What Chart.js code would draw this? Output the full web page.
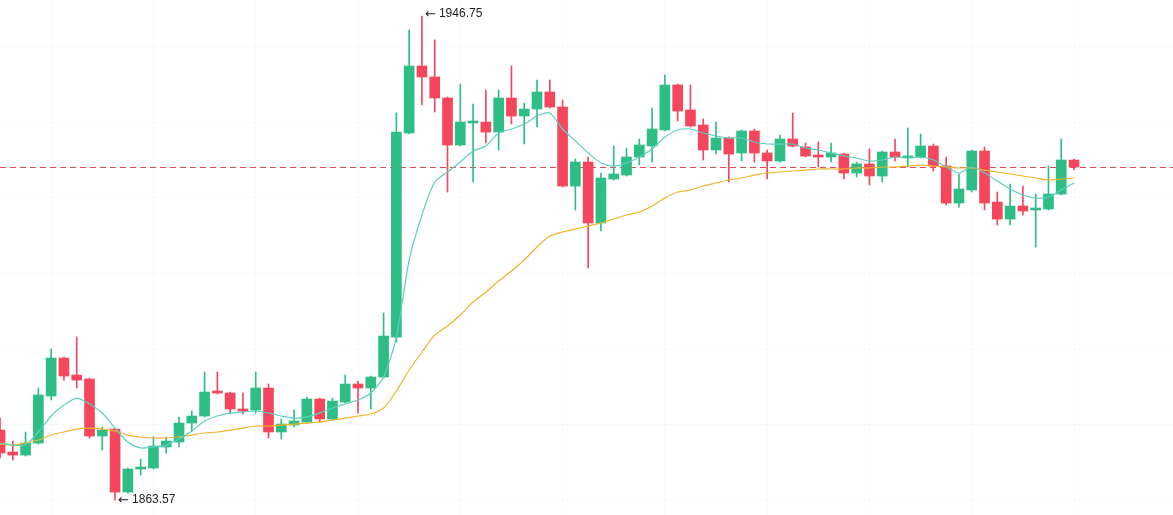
<!DOCTYPE html>
<html>
<head>
<meta charset="utf-8">
<title>Candles</title>
<script src="https://cdn.jsdelivr.net/npm/chart.js@4.4.1/dist/chart.umd.min.js"></script>
<style>
  html, body { margin: 0; padding: 0; background: #fff; }
  #wrap { width: 1173px; height: 515px; position: relative; }
</style>
</head>
<body>
<div id="wrap"><canvas id="kline"></canvas></div>
<script>
// candle values (oldest first)
const opens = [
  1875.60, 1871.82, 1871.30, 1873.37, 1881.44, 1887.97, 1885.05, 1884.37, 1874.57, 1875.77,
  1864.94, 1868.90, 1869.07, 1872.68, 1873.54, 1876.80, 1878.01, 1882.13, 1881.96, 1879.21,
  1879.04, 1882.82, 1875.26, 1876.46, 1876.98, 1880.93, 1877.49, 1880.41, 1883.51, 1882.82,
  1884.71, 1891.58, 1926.64, 1938.16, 1936.27, 1932.66, 1924.58, 1928.36, 1928.53, 1926.81,
  1932.66, 1929.56, 1930.77, 1933.69, 1931.11, 1917.53, 1921.66, 1911.18, 1918.74, 1919.42,
  1922.52, 1924.41, 1927.16, 1934.89, 1930.60, 1928.02, 1923.72, 1925.78, 1923.21, 1926.99,
  1923.21, 1921.83, 1925.61, 1924.24, 1922.86, 1922.52, 1923.03, 1919.77, 1921.32, 1919.25,
  1923.38, 1922.35, 1922.52, 1924.41, 1920.97, 1914.61, 1916.85, 1923.55, 1914.78, 1911.86,
  1914.10, 1913.41, 1913.58, 1916.16, 1922.00
];
const highs = [
  1877.66, 1873.71, 1875.26, 1882.82, 1889.52, 1888.15, 1891.58, 1884.54, 1876.12, 1875.94,
  1869.07, 1870.62, 1874.40, 1874.40, 1877.83, 1878.87, 1885.57, 1885.57, 1882.13, 1881.96,
  1885.57, 1883.51, 1877.49, 1879.04, 1881.27, 1881.10, 1881.10, 1885.05, 1884.02, 1884.88,
  1895.71, 1930.08, 1944.34, 1946.75, 1942.63, 1932.83, 1935.06, 1931.63, 1934.03, 1934.03,
  1938.16, 1931.80, 1935.75, 1935.75, 1932.31, 1922.17, 1922.52, 1919.77, 1924.41, 1924.06,
  1925.61, 1930.94, 1936.61, 1935.06, 1934.89, 1929.05, 1928.53, 1925.96, 1927.16, 1927.33,
  1923.72, 1926.30, 1930.08, 1924.92, 1925.10, 1924.92, 1923.21, 1921.66, 1923.89, 1923.55,
  1925.61, 1927.50, 1926.47, 1924.75, 1922.52, 1919.60, 1923.72, 1924.24, 1916.50, 1917.88,
  1917.53, 1916.16, 1920.97, 1925.61, 1922.17
];
const lows = [
  1870.79, 1870.44, 1871.13, 1873.19, 1880.76, 1884.19, 1882.82, 1874.23, 1872.16, 1863.57,
  1864.77, 1867.87, 1868.90, 1871.65, 1872.68, 1875.43, 1877.83, 1881.79, 1878.35, 1878.35,
  1878.52, 1874.23, 1874.05, 1876.12, 1876.80, 1876.98, 1877.32, 1880.24, 1878.52, 1879.21,
  1884.54, 1890.72, 1926.47, 1931.45, 1930.25, 1916.50, 1924.41, 1918.22, 1924.92, 1923.72,
  1928.19, 1924.75, 1927.67, 1930.94, 1917.36, 1913.41, 1903.44, 1909.80, 1918.57, 1919.25,
  1921.14, 1921.66, 1926.99, 1928.70, 1927.67, 1922.00, 1923.03, 1918.22, 1921.83, 1921.66,
  1918.74, 1921.66, 1924.24, 1922.52, 1920.80, 1921.66, 1918.74, 1919.08, 1917.71, 1918.22,
  1921.83, 1920.80, 1922.35, 1920.11, 1914.27, 1913.92, 1916.50, 1913.41, 1910.83, 1910.83,
  1912.55, 1907.05, 1913.41, 1915.99, 1920.28
];
const closes = [
  1871.65, 1871.30, 1873.37, 1881.62, 1887.97, 1884.88, 1884.19, 1874.57, 1875.60, 1864.94,
  1868.90, 1869.24, 1872.85, 1873.71, 1876.80, 1878.01, 1882.13, 1881.96, 1879.21, 1878.87,
  1882.82, 1875.26, 1876.63, 1877.15, 1880.93, 1877.49, 1880.58, 1883.51, 1882.82, 1884.71,
  1891.76, 1926.81, 1938.16, 1936.27, 1932.66, 1924.58, 1928.53, 1928.70, 1926.81, 1932.66,
  1929.56, 1930.77, 1933.69, 1931.11, 1917.53, 1921.66, 1911.18, 1918.91, 1919.60, 1922.52,
  1924.58, 1927.33, 1934.89, 1930.42, 1927.85, 1923.72, 1925.78, 1923.03, 1926.99, 1923.21,
  1921.83, 1925.61, 1924.41, 1922.69, 1922.52, 1923.21, 1919.77, 1921.32, 1919.25, 1923.38,
  1922.52, 1922.52, 1924.41, 1920.97, 1914.61, 1917.02, 1923.55, 1914.61, 1911.86, 1914.10,
  1913.24, 1913.75, 1916.16, 1922.00, 1920.80
];

// moving average lines at each candle
const maFast = [
  1873.37, 1873.02, 1873.02, 1875.26, 1878.01, 1879.90, 1881.10, 1880.07, 1878.52, 1875.94,
  1873.54, 1872.51, 1872.68, 1873.02, 1874.05, 1875.43, 1877.15, 1878.01, 1878.52, 1878.69,
  1878.87, 1878.52, 1878.01, 1877.66, 1877.83, 1878.52, 1879.38, 1880.07, 1880.76, 1881.96,
  1884.71, 1891.58, 1904.82, 1912.55, 1918.22, 1919.94, 1921.66, 1923.55, 1924.41, 1926.64,
  1927.33, 1928.19, 1929.56, 1930.08, 1927.33, 1925.27, 1923.21, 1921.49, 1920.97, 1921.49,
  1922.52, 1923.89, 1925.96, 1927.16, 1927.33, 1926.64, 1926.13, 1925.78, 1925.78, 1925.10,
  1924.75, 1924.75, 1924.75, 1924.06, 1923.72, 1923.21, 1922.69, 1922.35, 1921.83, 1922.00,
  1922.52, 1922.35, 1922.52, 1922.00, 1920.80, 1919.77, 1920.80, 1919.77, 1918.39, 1917.02,
  1915.99, 1915.47, 1915.64, 1916.85, 1918.05
];
const maSlow = [
  1873.19, 1873.02, 1873.37, 1873.88, 1874.74, 1875.26, 1875.77, 1875.94, 1875.77, 1875.43,
  1874.74, 1874.40, 1874.23, 1874.23, 1874.40, 1874.74, 1875.09, 1875.26, 1875.60, 1875.94,
  1876.29, 1876.29, 1876.46, 1876.63, 1876.80, 1876.98, 1877.32, 1877.66, 1878.01, 1878.35,
  1879.38, 1882.30, 1885.91, 1889.01, 1891.93, 1893.47, 1895.36, 1897.60, 1899.32, 1901.21,
  1902.93, 1904.82, 1907.05, 1908.94, 1909.63, 1910.14, 1910.66, 1911.18, 1911.86, 1912.55,
  1913.07, 1914.10, 1915.47, 1916.50, 1916.85, 1917.53, 1918.05, 1918.57, 1918.91, 1919.42,
  1919.77, 1919.94, 1920.11, 1920.28, 1920.46, 1920.46, 1920.46, 1920.63, 1920.63, 1920.80,
  1920.80, 1920.97, 1921.14, 1920.97, 1920.80, 1920.63, 1920.63, 1920.28, 1919.94, 1919.60,
  1919.25, 1918.91, 1918.57, 1918.74, 1918.91
];

// faint grid: price levels and candle slots
const gridPrices = [1863.5, 1876.5, 1889.5, 1902.5, 1915.5, 1928.5, 1941.5];
const gridSlots = [4, 12, 20, 28, 36, 44, 52, 60, 68, 76, 84];

const UP = '#2ebd85';
const DOWN = '#f6465d';

const candleColors = closes.map((c, i) => c >= opens[i] ? UP : DOWN);
const wickData = closes.map((_, i) => ({ x: i, y: [lows[i], highs[i]] }));
const bodyData = closes.map((c, i) => ({ x: i, y: [opens[i], c] }));
const fastData = maFast.map((v, i) => ({ x: i, y: v }));
const slowData = maSlow.map((v, i) => ({ x: i, y: v }));

// dashed line at the last close
const lastPriceLine = {
  id: 'lastPriceLine',
  beforeDatasetsDraw(chart) {
    const { ctx, chartArea, scales: { y } } = chart;
    const py = Math.round(y.getPixelForValue(closes[closes.length - 1])) + 0.5;
    ctx.save();
    ctx.strokeStyle = '#e2475a';
    ctx.lineWidth = 1;
    ctx.setLineDash([6, 4]);
    ctx.beginPath();
    ctx.moveTo(chartArea.left, py);
    ctx.lineTo(chartArea.right, py);
    ctx.stroke();
    ctx.restore();
  }
};

// "← value" marks at the highest high and lowest low
const extremeLabels = {
  id: 'extremeLabels',
  afterDatasetsDraw(chart) {
    const { ctx, scales: { x, y } } = chart;
    const hi = highs.indexOf(Math.max(...highs));
    const lo = lows.indexOf(Math.min(...lows));
    const marks = [
      { px: x.getPixelForValue(hi), py: y.getPixelForValue(highs[hi]) - 2, text: highs[hi].toFixed(2) },
      { px: x.getPixelForValue(lo), py: y.getPixelForValue(lows[lo]), text: lows[lo].toFixed(2) }
    ];
    ctx.save();
    ctx.fillStyle = '#222';
    ctx.textBaseline = 'middle';
    marks.forEach(m => {
      ctx.font = '13px "DejaVu Sans", sans-serif';
      ctx.fillText('\u2190', m.px + 3, m.py + 1);
      ctx.font = '12px "Liberation Sans", Arial, sans-serif';
      ctx.fillText(m.text, m.px + 17, m.py);
    });
    ctx.restore();
  }
};

new Chart(document.getElementById('kline').getContext('2d'), {
  type: 'bar',
  data: {
    datasets: [
      {
        type: 'line',
        data: fastData,
        borderColor: '#5ccfbf',
        borderWidth: 1.2,
        pointRadius: 0,
        tension: 0.25,
        order: 1
      },
      {
        type: 'line',
        data: slowData,
        borderColor: '#f0b429',
        borderWidth: 1.2,
        pointRadius: 0,
        tension: 0.25,
        order: 1
      },
      {
        data: bodyData,
        backgroundColor: candleColors,
        barThickness: 10,
        minBarLength: 2,
        grouped: false,
        order: 2
      },
      {
        data: wickData,
        backgroundColor: candleColors,
        barThickness: 1,
        grouped: false,
        order: 3
      }
    ]
  },
  options: {
    responsive: true,
    maintainAspectRatio: false,
    animation: false,
    layout: { padding: 0 },
    plugins: { legend: { display: false }, tooltip: { enabled: false } },
    scales: {
      x: {
        type: 'linear',
        min: 0,
        max: 91.74,
        offset: false,
        ticks: { display: false },
        border: { display: false },
        grid: { color: '#f9f9f9', drawTicks: false, offset: false },
        afterBuildTicks: s => { s.ticks = gridSlots.map(v => ({ value: v })); }
      },
      y: {
        min: 1861.0,
        max: 1949.5,
        ticks: { display: false },
        border: { display: false },
        grid: { color: '#f9f9f9', drawTicks: false },
        afterBuildTicks: s => { s.ticks = gridPrices.map(v => ({ value: v })); }
      }
    }
  },
  plugins: [lastPriceLine, extremeLabels]
});
</script>
</body>
</html>
